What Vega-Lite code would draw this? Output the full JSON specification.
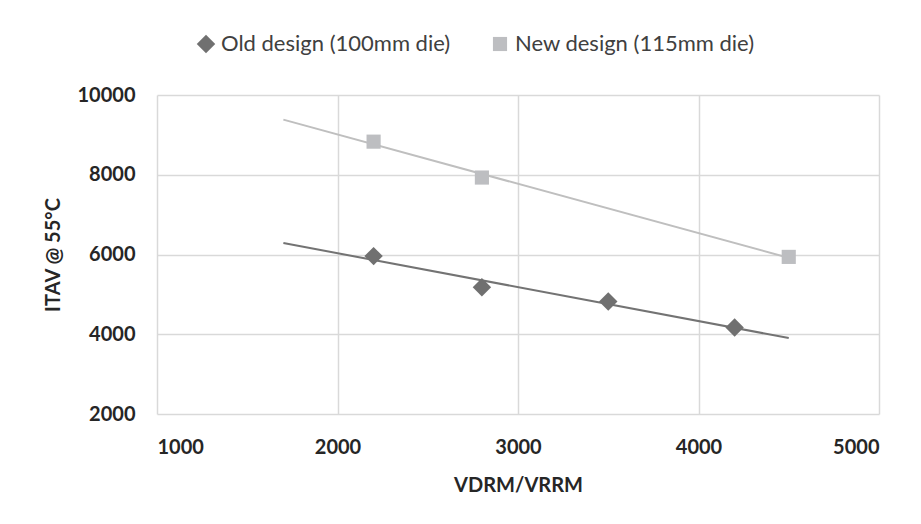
{
  "$schema": "https://vega.github.io/schema/vega-lite/v6.json",
  "width": 722,
  "height": 319,
  "autosize": "none",
  "padding": {"left": 157, "top": 95, "right": 42, "bottom": 110},
  "background": "white",
  "config": {
    "view": {"stroke": null},
    "font": "Lato",
    "axis": {
      "grid": true,
      "gridColor": "#d9d9d9",
      "gridWidth": 1.5,
      "domain": false,
      "ticks": false,
      "labelFont": "Lato",
      "labelFontWeight": "bold",
      "labelFontSize": 20,
      "labelColor": "#262626",
      "titleFont": "Lato",
      "titleFontWeight": "bold",
      "titleFontSize": 20,
      "titleColor": "#262626"
    }
  },
  "data": {
    "values": [
      {"series": "Old design (100mm die)", "x": 2200, "y": 5960},
      {"series": "Old design (100mm die)", "x": 2800, "y": 5180},
      {"series": "Old design (100mm die)", "x": 3500, "y": 4820},
      {"series": "Old design (100mm die)", "x": 4200, "y": 4170},
      {"series": "New design (115mm die)", "x": 2200, "y": 8830},
      {"series": "New design (115mm die)", "x": 2800, "y": 7930},
      {"series": "New design (115mm die)", "x": 4500, "y": 5940}
    ]
  },
  "encoding": {
    "x": {
      "field": "x",
      "type": "quantitative",
      "scale": {"domain": [1000, 5000], "nice": false, "zero": false},
      "axis": {"values": [1000, 2000, 3000, 4000, 5000], "format": "d", "title": "VDRM/VRRM", "labelPadding": 23, "titlePadding": 18}
    },
    "y": {
      "field": "y",
      "type": "quantitative",
      "scale": {"domain": [2000, 10000], "nice": false, "zero": false},
      "axis": {"values": [2000, 4000, 6000, 8000, 10000], "format": "d", "title": "ITAV @ 55°C", "labelPadding": 22, "titlePadding": 14}
    }
  },
  "layer": [
    {
      "transform": [
        {"filter": "datum.series === 'New design (115mm die)'"},
        {"regression": "y", "on": "x", "extent": [1700, 4500]}
      ],
      "mark": {"type": "line", "color": "#bfbfbf", "strokeWidth": 2}
    },
    {
      "transform": [
        {"filter": "datum.series === 'Old design (100mm die)'"},
        {"regression": "y", "on": "x", "extent": [1700, 4500]}
      ],
      "mark": {"type": "line", "color": "#737373", "strokeWidth": 2}
    },
    {
      "mark": {"type": "point", "filled": true, "opacity": 1},
      "encoding": {
        "color": {
          "field": "series",
          "type": "nominal",
          "scale": {"domain": ["Old design (100mm die)", "New design (115mm die)"], "range": ["#707070", "#bdbec1"]},
          "legend": {
            "orient": "none",
            "direction": "horizontal",
            "legendX": 38,
            "legendY": -62,
            "title": null,
            "padding": 0,
            "labelFont": "Lato",
            "labelFontSize": 22,
            "labelLimit": 500,
            "labelColor": "#404040",
            "symbolSize": 150,
            "labelOffset": 4,
            "columnPadding": 38
          }
        },
        "shape": {
          "field": "series",
          "type": "nominal",
          "scale": {"domain": ["Old design (100mm die)", "New design (115mm die)"], "range": ["diamond", "square"]}
        },
        "size": {
          "field": "series",
          "type": "nominal",
          "scale": {"domain": ["Old design (100mm die)", "New design (115mm die)"], "range": [340, 200]},
          "legend": null
        }
      }
    }
  ]
}
